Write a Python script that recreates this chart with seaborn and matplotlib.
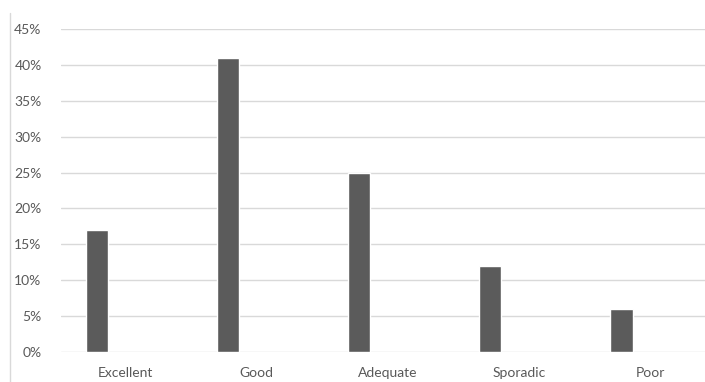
import matplotlib
matplotlib.use("Agg")
import matplotlib.pyplot as plt
from matplotlib.lines import Line2D
from matplotlib.ticker import PercentFormatter, MultipleLocator
import numpy as np
import pandas as pd
import seaborn as sns

categories = ["Excellent", "Good", "Adequate", "Sporadic", "Poor"]
shares = [0.17, 0.41, 0.25, 0.12, 0.06]
series_names = ["Rating", "Blank"]

df = pd.DataFrame({
    "category": categories * 2,
    "share": shares + [np.nan] * len(categories),
    "series": [series_names[0]] * len(categories) + [series_names[1]] * len(categories),
})

sns.set_theme(style="white")
plt.rcParams["font.family"] = ["Lato", "DejaVu Sans"]

fig = plt.figure(figsize=(7.05, 3.82), dpi=100)
ax = fig.add_axes([61 / 705, 1 - 352 / 382, 1 - 61 / 705, (352 - 29) / 382])

sns.barplot(
    data=df, x="category", y="share", hue="series",
    order=categories, hue_order=series_names,
    palette=["#5b5b5b", "#5b5b5b"], width=0.876, gap=0.607,
    legend=False, ax=ax, zorder=3, saturation=1,
)

ax.set_ylim(0, 0.45)
ax.set_xlim(-0.494, 4.42)
ax.yaxis.set_major_locator(MultipleLocator(0.05))
ax.yaxis.set_major_formatter(PercentFormatter(1.0, decimals=0))
ax.grid(axis="y", color="#d9d9d9", linewidth=1.0, zorder=0)
ax.set_axisbelow(True)
for s in ax.spines.values():
    s.set_visible(False)
ax.set_xlabel("")
ax.set_ylabel("")
ax.tick_params(axis="both", length=0, labelsize=10, colors="#595959")
ax.tick_params(axis="y", pad=14)
ax.tick_params(axis="x", pad=11)

fig.add_artist(Line2D([10 / 705, 10 / 705], [0, 1 - 13 / 382],
                      color="#d9d9d9", linewidth=1.0, transform=fig.transFigure))

fig.savefig("out.png", dpi=100)
